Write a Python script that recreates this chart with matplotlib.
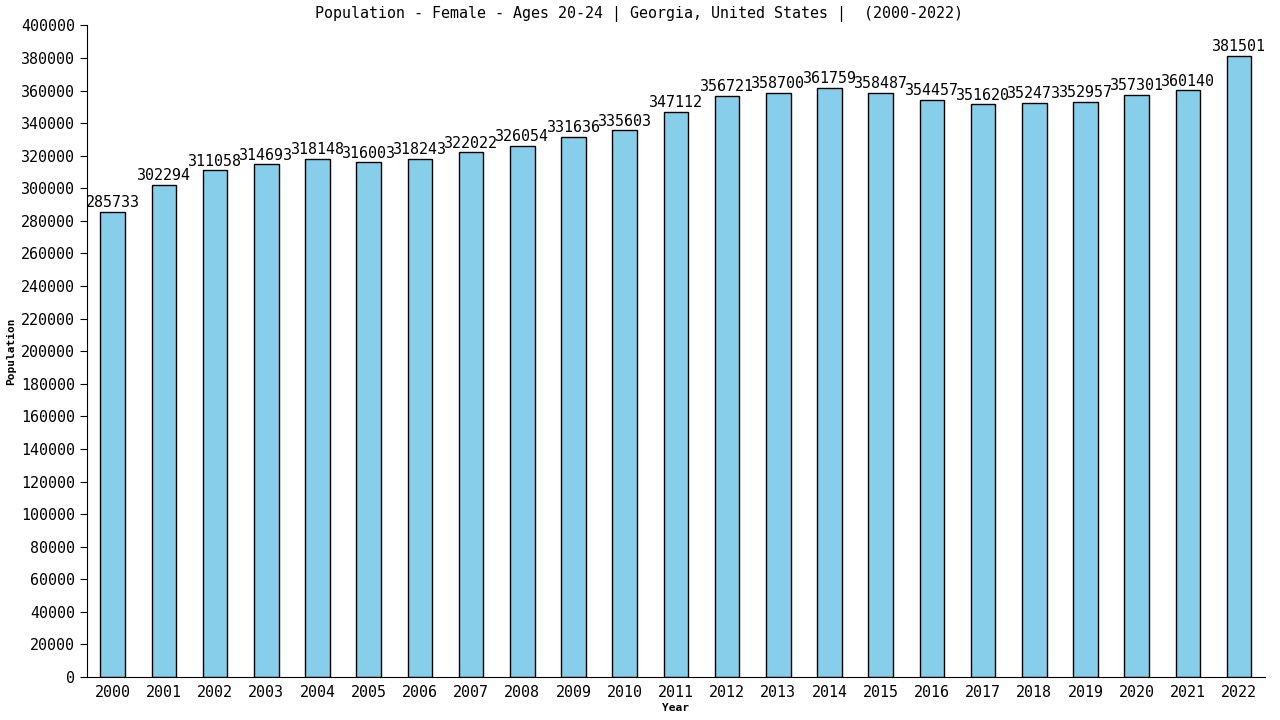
import numpy as np
import matplotlib.pyplot as plt

years = [str(y) for y in range(2000, 2023)]
pop = [285733, 302294, 311058, 314693, 318148, 316003, 318243, 322022, 326054,
       331636, 335603, 347112, 356721, 358700, 361759, 358487, 354457, 351620,
       352473, 352957, 357301, 360140, 381501]

plt.rcParams['font.family'] = 'DejaVu Sans Mono'
fig = plt.figure(figsize=(12.8, 7.2), dpi=100)
ax = fig.add_axes([0.068, 0.0597, 0.92, 0.905])
x = np.arange(len(years))
ax.bar(x, pop, width=0.48, color='#87ceeb', edgecolor='black', linewidth=1)
for xi, v in zip(x, pop):
    ax.text(xi, v + 1000, str(v), ha='center', va='bottom', fontsize=10.8)
ax.set_xlim(-0.5, len(years) - 0.5)
ax.set_ylim(0, 400000)
ax.set_yticks(np.arange(0, 400001, 20000))
ax.set_xticks(x)
ax.set_xticklabels(years)
ax.tick_params(labelsize=10.8, length=5)
ax.tick_params(axis='x', length=0, pad=6)
for s in ['top', 'right']:
    ax.spines[s].set_visible(False)
fig.text(0.499, 0.981, 'Population - Female - Ages 20-24 | Georgia, United States |  (2000-2022)',
         fontsize=10.8, ha='center', va='center')
ax.set_ylabel('Population', fontsize=8, fontweight='bold')
ax.set_xlabel('Year', fontsize=8, fontweight='bold', labelpad=2)
fig.savefig('out.png')
